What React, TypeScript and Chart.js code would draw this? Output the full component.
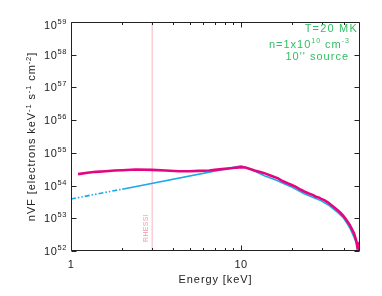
import React, { useEffect, useRef } from "react";
import { Chart, registerables } from "chart.js";

Chart.register(...registerables);

// Observed spectrum (magenta), energy in keV, log10 of nVF
const obsEnergy = [1.1, 1.25, 1.4, 1.6, 1.8, 2.0, 2.4, 3.0, 3.6, 4.3, 5.0, 5.6, 6.5, 7.0, 8.0, 8.7, 9.4, 10.0, 10.6, 11.4, 12.0, 12.8, 13.7, 15, 16.5, 17.5, 18.75, 20, 21, 22.3, 23.5, 25, 26.5, 27.5, 28.5, 29.4, 31, 32.5, 34, 35.5, 36.8, 38.5, 40, 41.2, 42.2, 43.5, 44.5, 45.3, 46.1, 47, 47.7, 48.2, 48.8, 49.3, 50];
const obsLogFlux = [54.35, 54.39, 54.42, 54.44, 54.46, 54.47, 54.49, 54.48, 54.46, 54.44, 54.44, 54.45, 54.46, 54.48, 54.51, 54.53, 54.55, 54.56, 54.55, 54.5, 54.46, 54.42, 54.38, 54.3, 54.22, 54.14, 54.07, 54.01, 53.96, 53.88, 53.82, 53.76, 53.71, 53.66, 53.64, 53.6, 53.55, 53.48, 53.4, 53.32, 53.25, 53.16, 53.07, 52.98, 52.9, 52.8, 52.7, 52.62, 52.54, 52.4, 52.28, 52.13, 52.18, 52.05, 52.0];

// Model spectrum (blue)
const modelLowEnergy = [1.0, 2.0];
const modelLowLogFlux = [53.59, 53.89];
const modelEnergy = [2.0, 10.0, 11.4, 13.7, 16, 18.75, 20, 23.5, 29.4, 33, 36.8, 40, 42.2, 44, 46.1, 47.5, 48.5, 49.6];
const modelLogFlux = [53.89, 54.6, 54.5, 54.3, 54.17, 54.01, 53.95, 53.75, 53.54, 53.39, 53.19, 53.01, 52.82, 52.66, 52.42, 52.25, 52.08, 52.0];

const rhessiEnergy = 3;

const xMajorTicks = [1, 10];
const xMinorTicks = [2, 3, 4, 5, 6, 7, 8, 9, 20, 30, 40];
const yDecades = [52, 53, 54, 55, 56, 57, 58, 59];

const FONT = "'Liberation Sans', Arial, Helvetica, sans-serif";

type Seg = [string, boolean];

function richWidth(ctx: CanvasRenderingContext2D, segs: Seg[], base: number, sup: number, spacing: number) {
  let w = 0;
  for (const [t, s] of segs) {
    ctx.font = `${s ? sup : base}px ${FONT}`;
    (ctx as any).letterSpacing = `${spacing}px`;
    w += ctx.measureText(t).width;
  }
  return w;
}

function drawRich(
  ctx: CanvasRenderingContext2D,
  segs: Seg[],
  x: number,
  y: number,
  align: "left" | "right" | "center",
  base: number,
  sup: number,
  spacing: number,
  raise: number
) {
  const w = richWidth(ctx, segs, base, sup, spacing);
  let cx = align === "left" ? x : align === "right" ? x - w : x - w / 2;
  ctx.textAlign = "left";
  ctx.textBaseline = "alphabetic";
  for (const [t, s] of segs) {
    ctx.font = `${s ? sup : base}px ${FONT}`;
    (ctx as any).letterSpacing = `${spacing}px`;
    ctx.fillText(t, cx, s ? y - raise : y);
    cx += ctx.measureText(t).width;
  }
  (ctx as any).letterSpacing = "0px";
}

const axesPlugin = {
  id: "idlAxes",
  afterDatasetsDraw(chart: any) {
    const { ctx, chartArea, scales } = chart;
    const { left, right, top, bottom } = chartArea;
    const xs = scales.x;
    const ys = scales.y;
    const L = Math.round(left) + 0.5;
    const R = Math.round(right) - 0.5;
    const T = Math.round(top) + 0.5;
    const B = Math.round(bottom) - 0.5;
    ctx.save();
    ctx.strokeStyle = "#222";
    ctx.lineWidth = 1;
    ctx.beginPath();
    ctx.rect(L, T, R - L, B - T);
    ctx.stroke();

    ctx.beginPath();
    const xt = (v: number, len: number) => {
      const px = Math.round(xs.getPixelForValue(v)) + 0.5;
      ctx.moveTo(px, B);
      ctx.lineTo(px, B - len);
      ctx.moveTo(px, T);
      ctx.lineTo(px, T + len);
    };
    xMajorTicks.forEach((v) => xt(v, 5));
    xMinorTicks.forEach((v) => xt(v, 2.5));
    yDecades.forEach((d) => {
      const py = Math.round(ys.getPixelForValue(Math.pow(10, d))) + 0.5;
      ctx.moveTo(L, py);
      ctx.lineTo(L + 5, py);
      ctx.moveTo(R, py);
      ctx.lineTo(R - 5, py);
    });
    ctx.stroke();

    // Tick labels
    ctx.fillStyle = "#222";
    yDecades.forEach((d, i) => {
      let py = ys.getPixelForValue(Math.pow(10, d));
      if (i === yDecades.length - 1) py += 3;
      drawRich(ctx, [["10", false], [String(d), true]], left - 4, py + 4, "right", 11, 7.5, 0.6, 5);
    });
    xMajorTicks.forEach((v) => {
      const px = xs.getPixelForValue(v);
      drawRich(ctx, [[String(v), false]], px, 268, "center", 11, 8, 0.6, 4);
    });

    // Axis titles
    drawRich(ctx, [["Energy [keV]", false]], (left + right) / 2, 283, "center", 11, 8, 0.9, 4);
    ctx.save();
    ctx.translate(35, (top + bottom) / 2);
    ctx.rotate(-Math.PI / 2);
    drawRich(
      ctx,
      [["nVF [electrons keV", false], ["-1", true], [" s", false], ["-1", true], [" cm", false], ["-2", true], ["]", false]],
      0, 0, "center", 11, 7.5, 0.9, 4.5
    );
    ctx.restore();

    // RHESSI label
    ctx.save();
    ctx.fillStyle = "#f59aa8";
    ctx.translate(147.5, 228);
    ctx.rotate(-Math.PI / 2);
    drawRich(ctx, [["RHESSI", false]], 0, 0, "center", 7, 6, 0.3, 3);
    ctx.restore();

    // Annotation
    ctx.fillStyle = "#2fbf62";
    drawRich(ctx, [["T=20 MK", false]], 358, 32, "right", 11, 7.5, 1.2, 4.5);
    drawRich(ctx, [["n=1x10", false], ["10", true], [" cm", false], ["-3", true]], 350, 47.5, "right", 11, 7, 1.0, 4.5);
    drawRich(ctx, [["10'' source", false]], 349, 59.5, "right", 11, 7.5, 1.0, 4.5);
    ctx.restore();
  },
};

export default function App() {
  const ref = useRef<HTMLCanvasElement | null>(null);
  useEffect(() => {
    if (!ref.current) return;
    const toPts = (e: number[], l: number[]) => e.map((v, i) => ({ x: v, y: Math.pow(10, l[i]) }));
    const chart = new Chart(ref.current, {
      type: "line",
      data: {
        datasets: [
          {
            label: "observed",
            data: toPts(obsEnergy, obsLogFlux),
            borderColor: "#e4067e",
            borderWidth: 2.6,
            pointRadius: 0,
            tension: 0,
          },
          {
            label: "model",
            data: toPts(modelEnergy, modelLogFlux),
            borderColor: "#1fa8e6",
            borderWidth: 1.6,
            pointRadius: 0,
            tension: 0,
          },
          {
            label: "model low",
            data: toPts(modelLowEnergy, modelLowLogFlux),
            borderColor: "#1fa8e6",
            borderWidth: 1.6,
            borderDash: [5, 2, 1.5, 2, 1.5, 2],
            pointRadius: 0,
            tension: 0,
          },
          {
            label: "RHESSI",
            data: [
              { x: rhessiEnergy, y: 1e52 },
              { x: rhessiEnergy, y: 1e59 },
            ],
            borderColor: "#f7b7c0",
            borderWidth: 1,
            pointRadius: 0,
          },
        ],
      },
      options: {
        responsive: false,
        animation: false,
        devicePixelRatio: 1,
        layout: { padding: { left: 71, right: 22, top: 22, bottom: 45 } },
        plugins: { legend: { display: false }, tooltip: { enabled: false } },
        scales: {
          x: { type: "logarithmic", min: 1, max: 50, display: false },
          y: { type: "logarithmic", min: 1e52, max: 1e59, display: false },
        },
      },
      plugins: [axesPlugin],
    } as any);
    return () => chart.destroy();
  }, []);
  return (
    <div style={{ position: "absolute", left: 0, top: 0, width: 382, height: 296, background: "#fff" }}>
      <canvas ref={ref} width={382} height={296} style={{ display: "block", width: 382, height: 296 }} />
    </div>
  );
}
